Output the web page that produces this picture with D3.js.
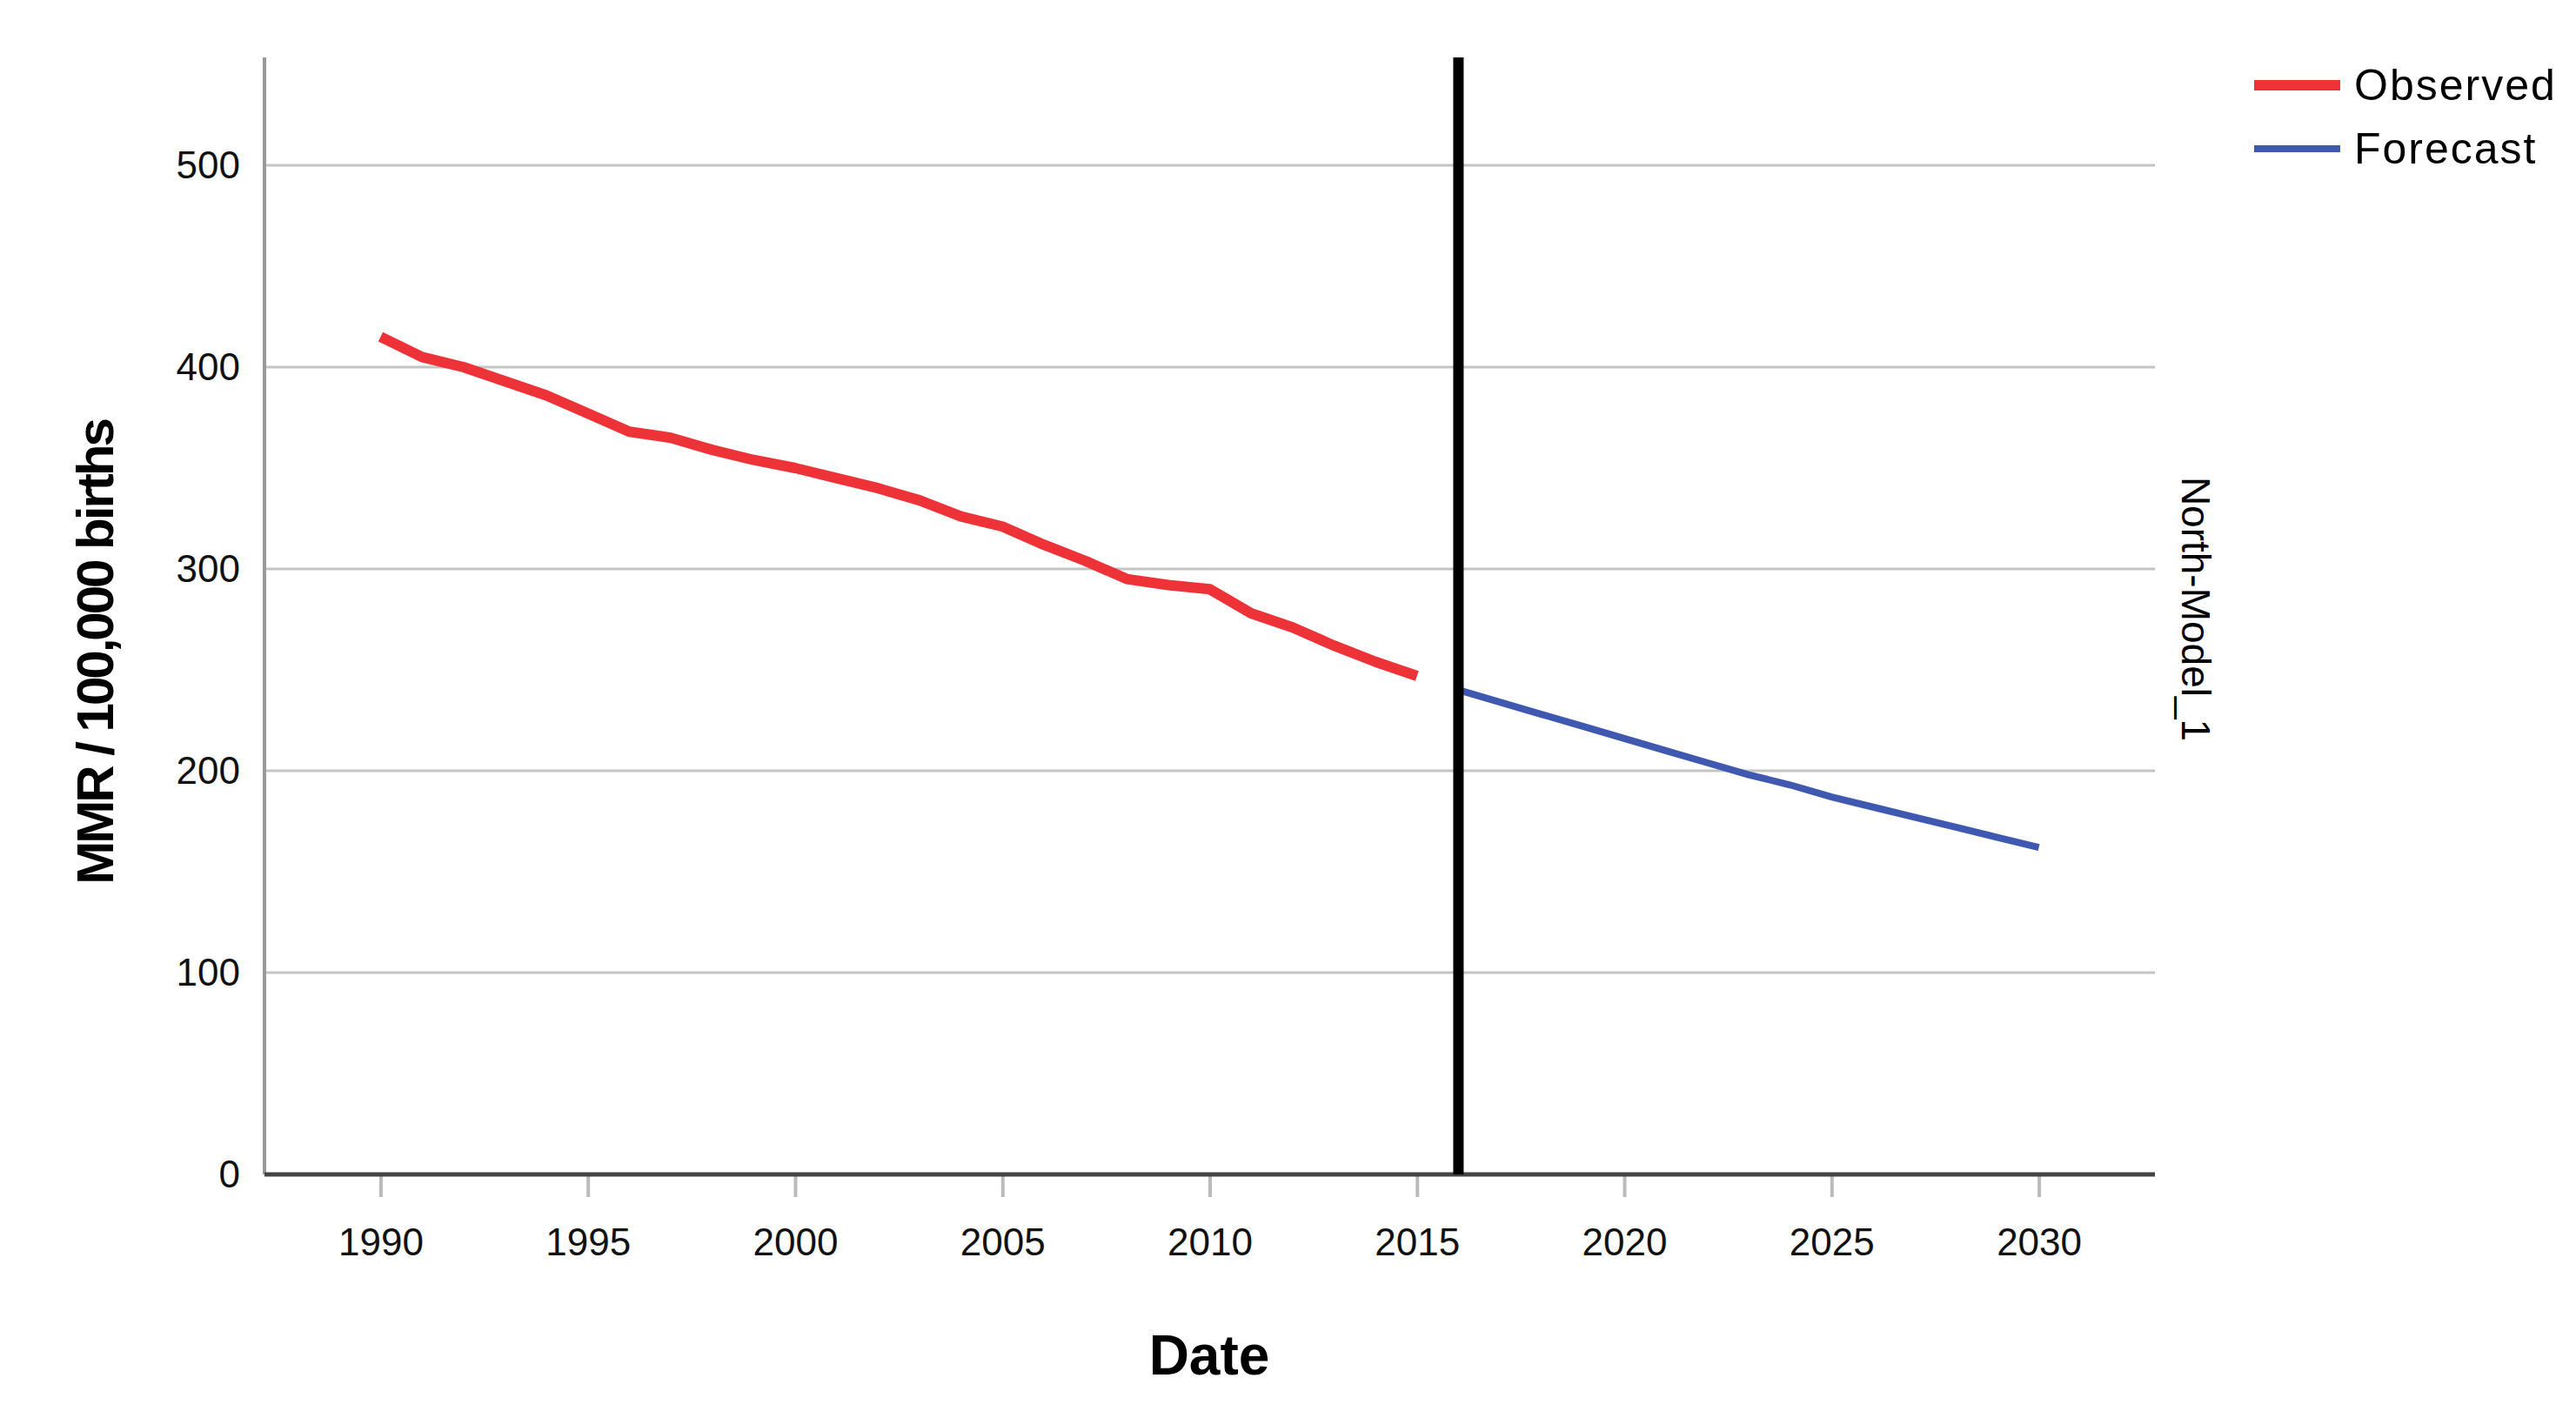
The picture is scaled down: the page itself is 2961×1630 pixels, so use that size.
<!DOCTYPE html>
<html>
<head>
<meta charset="utf-8">
<script src="https://cdn.jsdelivr.net/npm/d3@7"></script>
<style>
  body { margin: 0; background: #fff; }
  text { font-family: "Liberation Sans", Arial, sans-serif; }
</style>
</head>
<body>
<div id="chart"></div>
<script>
// data
const obsYears = [1990,1991,1992,1993,1994,1995,1996,1997,1998,1999,2000,2001,2002,2003,2004,2005,2006,2007,2008,2009,2010,2011,2012,2013,2014,2015];
const obsValues = [415,405,400,393,386,377,368,365,359,354,350,345,340,334,326,321,312,304,295,292,290,278,271,262,254,247];
const fcYears = [2016,2017,2018,2019,2020,2021,2022,2023,2024,2025,2026,2027,2028,2029,2030];
const fcValues = [240,234,228,222,216,210,204,198,193,187,182,177,172,167,162];
const xTicks = [1990,1995,2000,2005,2010,2015,2020,2025,2030];
const yTicks = [0,100,200,300,400,500];
const cutYear = 2016;

const width = 2961, height = 1630;
const m = {left: 304, right: 2477, top: 66, bottom: 1350};

const svg = d3.select("#chart").append("svg")
    .attr("width", width)
    .attr("height", height);

const x = d3.scaleLinear().domain([1987.2, 2032.8]).range([m.left, m.right]);
const y = d3.scaleLinear().domain([0, 500]).range([m.bottom, 190]);

// gridlines
svg.append("g").selectAll("line")
    .data(yTicks.filter(d => d > 0))
    .enter().append("line")
    .attr("x1", m.left).attr("x2", m.right)
    .attr("y1", d => y(d)).attr("y2", d => y(d))
    .attr("stroke", "#c4c4c4")
    .attr("stroke-width", 3);

// y axis
const yAxis = svg.append("g")
    .attr("transform", `translate(${m.left},0)`)
    .call(d3.axisLeft(y).tickValues(yTicks).tickSize(0).tickPadding(28));
yAxis.select(".domain").remove();
yAxis.selectAll("text").attr("font-size", 44).attr("fill", "#111");
svg.append("line")
    .attr("x1", m.left).attr("x2", m.left)
    .attr("y1", m.top).attr("y2", m.bottom)
    .attr("stroke", "#999").attr("stroke-width", 4);

// x axis
const xAxis = svg.append("g")
    .attr("transform", `translate(0,${m.bottom})`)
    .call(d3.axisBottom(x).tickValues(xTicks).tickFormat(d3.format("d")).tickSize(26).tickPadding(36));
xAxis.select(".domain").remove();
xAxis.selectAll(".tick line").attr("stroke", "#bbb").attr("stroke-width", 4);
xAxis.selectAll("text").attr("font-size", 44).attr("fill", "#111");
svg.append("line")
    .attr("x1", m.left).attr("x2", m.right)
    .attr("y1", m.bottom).attr("y2", m.bottom)
    .attr("stroke", "#444").attr("stroke-width", 5);

// lines
const line = d3.line().x(d => x(d[0])).y(d => y(d[1]));
svg.append("path")
    .datum(d3.zip(obsYears, obsValues))
    .attr("d", line)
    .attr("fill", "none")
    .attr("stroke", "#ee3338")
    .attr("stroke-width", 12)
    .attr("stroke-linejoin", "round");
svg.append("path")
    .datum(d3.zip(fcYears, fcValues))
    .attr("d", line)
    .attr("fill", "none")
    .attr("stroke", "#3f59b0")
    .attr("stroke-width", 8);

// forecast origin line
svg.append("line")
    .attr("x1", x(cutYear)).attr("x2", x(cutYear))
    .attr("y1", m.top).attr("y2", m.bottom)
    .attr("stroke", "#000").attr("stroke-width", 12);

// axis titles
svg.append("text")
    .attr("x", 1390).attr("y", 1580)
    .attr("text-anchor", "middle")
    .attr("font-size", 64).attr("font-weight", "bold")
    .text("Date");
svg.append("text")
    .attr("transform", "translate(130,750) rotate(-90)")
    .attr("text-anchor", "middle")
    .attr("font-size", 60).attr("font-weight", "bold")
    .attr("letter-spacing", -3)
    .text("MMR / 100,000 births");
svg.append("text")
    .attr("transform", "translate(2508,700) rotate(90)")
    .attr("text-anchor", "middle")
    .attr("font-size", 46)
    .text("North-Model_1");

// legend
const legend = [["Observed", "#ee3338", 12], ["Forecast", "#3f59b0", 8]];
const lg = svg.append("g").selectAll("g")
    .data(legend).enter().append("g")
    .attr("transform", (d, i) => `translate(0,${98 + i * 73})`);
lg.append("line")
    .attr("x1", 2591).attr("x2", 2690)
    .attr("stroke", d => d[1]).attr("stroke-width", d => d[2]);
lg.append("text")
    .attr("x", 2706).attr("y", 17)
    .attr("font-size", 50)
    .attr("letter-spacing", 2)
    .text(d => d[0]);
</script>
</body>
</html>
